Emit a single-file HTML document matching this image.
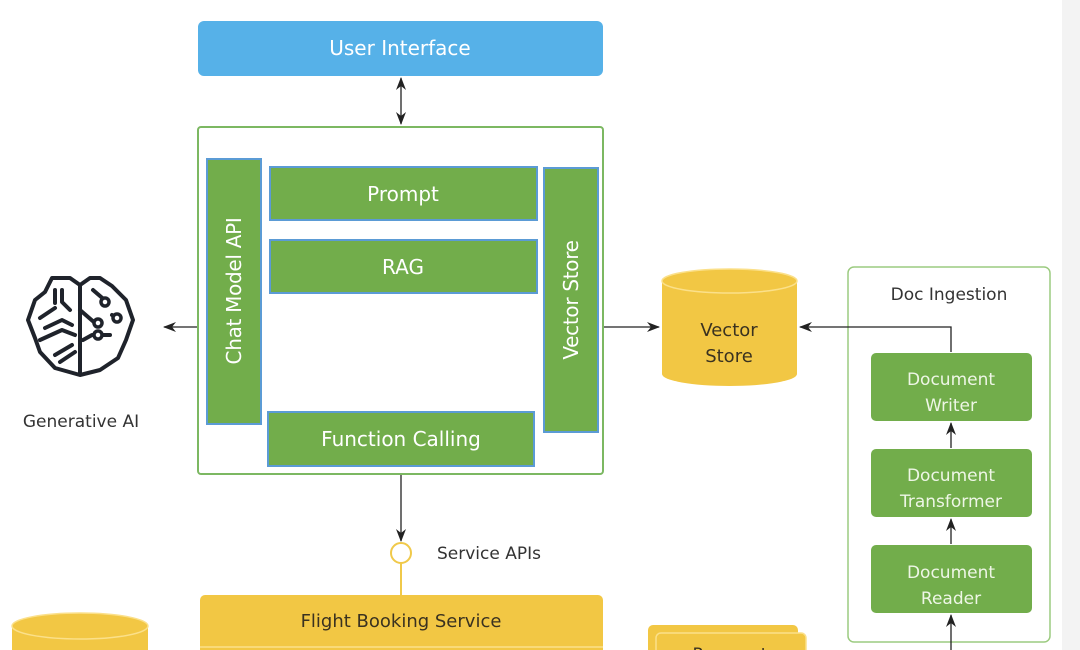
<!DOCTYPE html>
<html><head><meta charset="utf-8"><style>
html,body{margin:0;padding:0;background:#fff;}
svg{display:block;font-family:"DejaVu Sans","Liberation Sans",sans-serif;}
</style></head><body>
<svg width="1080" height="650" viewBox="0 0 1080 650" xmlns="http://www.w3.org/2000/svg">
<defs>
<marker id="ah" markerWidth="13" markerHeight="12" refX="12" refY="6" orient="auto-start-reverse" markerUnits="userSpaceOnUse"><path d="M0,1 L13,6 L0,11 L4,6 Z" fill="#222"/></marker>
</defs>
<rect x="1062" y="0" width="18" height="650" fill="#f3f3f3"/>
<rect x="198" y="21" width="405" height="55" rx="6" fill="#56b1e8"/>
<text x="400" y="55" font-size="20" fill="#fff" text-anchor="middle">User Interface</text>
<line x1="401" y1="78" x2="401" y2="124" stroke="#222" stroke-width="1.3" marker-start="url(#ah)" marker-end="url(#ah)"/>
<rect x="198" y="127" width="405" height="347" rx="3" fill="#fff" stroke="#7cb862" stroke-width="2"/>
<g stroke="#5b9bd5" stroke-width="2" fill="#72ad4b">
<rect x="207" y="159" width="54" height="265"/>
<rect x="270" y="167" width="267" height="53"/>
<rect x="270" y="240" width="267" height="53"/>
<rect x="268" y="412" width="266" height="54"/>
<rect x="544" y="168" width="54" height="264"/>
</g>
<g fill="#fff" font-size="20" text-anchor="middle">
<text x="403" y="201">Prompt</text>
<text x="403" y="274">RAG</text>
<text x="401" y="446">Function Calling</text>
<text transform="translate(241,291) rotate(-90)" letter-spacing="-0.3">Chat Model API</text>
<text transform="translate(578,300) rotate(-90)" letter-spacing="-0.3">Vector Store</text>
</g>
<line x1="197" y1="327" x2="164" y2="327" stroke="#222" stroke-width="1.3" marker-end="url(#ah)"/>
<g fill="none" stroke="#1f232b" stroke-width="4" stroke-linejoin="round" stroke-linecap="round">
<path d="M80,285 L70,278 L52,278 L45,292 L35,300 L28,320 L35,338 L40,352 L55,368 L80,375 L100,370 L118,358 L126,340 L133,320 L126,300 L112,286 L100,278 L90,278 Z"/>
<path d="M80,285 L80,374"/>
<path d="M80,310 L95,323 L98,322"/>
<path d="M93,290 L107,302"/>
<path d="M110,335 L92,335 L83,340"/>
<path d="M112,315 L120,318"/>
<path d="M55,290 L55,303 M62,290 L62,302 L70,310 M40,318 L55,308 M45,328 L62,320 L72,325 M40,340 L62,330 L75,335 M55,355 L72,345 M60,362 L75,352"/>
</g>
<g fill="#fff" stroke="#1f232b" stroke-width="3.5">
<circle cx="105" cy="302" r="4"/><circle cx="98" cy="323" r="4"/><circle cx="117" cy="318" r="4"/><circle cx="98" cy="335" r="4"/>
</g>
<text x="81" y="427" font-size="17" fill="#333" text-anchor="middle">Generative AI</text>
<line x1="604" y1="327" x2="659" y2="327" stroke="#222" stroke-width="1.3" marker-end="url(#ah)"/>
<path d="M662,281 L662,374 A67.5,12 0 0 0 797,374 L797,281 Z" fill="#f2c744"/>
<ellipse cx="729.5" cy="281" rx="67.5" ry="12" fill="#f2c744" stroke="#fbe08a" stroke-width="1.5"/>
<text x="729" y="336" font-size="18" fill="#3a3220" text-anchor="middle">Vector</text>
<text x="729" y="362" font-size="18" fill="#3a3220" text-anchor="middle">Store</text>
<rect x="848" y="267" width="202" height="375" rx="6" fill="#fff" stroke="#9ccb80" stroke-width="1.5"/>
<text x="949" y="300" font-size="17" fill="#333" text-anchor="middle">Doc Ingestion</text>
<polyline points="951,352 951,327 800,327" fill="none" stroke="#222" stroke-width="1.3" marker-end="url(#ah)"/>
<g fill="#72ad4b">
<rect x="871" y="353" width="161" height="68" rx="5"/>
<rect x="871" y="449" width="161" height="68" rx="5"/>
<rect x="871" y="545" width="161" height="68" rx="5"/>
</g>
<g fill="#eef6e6" font-size="17" text-anchor="middle">
<text x="951" y="385">Document</text><text x="951" y="411">Writer</text>
<text x="951" y="481">Document</text><text x="951" y="507">Transformer</text>
<text x="951" y="578">Document</text><text x="951" y="604">Reader</text>
</g>
<line x1="951" y1="448" x2="951" y2="423" stroke="#222" stroke-width="1.3" marker-end="url(#ah)"/>
<line x1="951" y1="544" x2="951" y2="519" stroke="#222" stroke-width="1.3" marker-end="url(#ah)"/>
<line x1="951" y1="650" x2="951" y2="615" stroke="#222" stroke-width="1.3" marker-end="url(#ah)"/>
<line x1="401" y1="475" x2="401" y2="541" stroke="#222" stroke-width="1.3" marker-end="url(#ah)"/>
<circle cx="401" cy="553" r="10" fill="#fff" stroke="#f0c94a" stroke-width="2"/>
<line x1="401" y1="563" x2="401" y2="596" stroke="#f0c94a" stroke-width="2"/>
<text x="437" y="559" font-size="17" fill="#333">Service APIs</text>
<rect x="200" y="595" width="403" height="60" rx="5" fill="#f2c744"/>
<line x1="200" y1="647" x2="603" y2="647" stroke="#fbe08a" stroke-width="1.5"/>
<text x="401" y="627" font-size="18" fill="#3a3220" text-anchor="middle">Flight Booking Service</text>
<path d="M12,626 L12,650 L148,650 L148,626 Z" fill="#f2c744"/>
<ellipse cx="80" cy="626" rx="68" ry="13" fill="#f2c744" stroke="#fbe08a" stroke-width="1.5"/>
<rect x="648" y="625" width="150" height="40" rx="5" fill="#f2c744"/>
<rect x="656" y="633" width="150" height="40" rx="5" fill="#f2c744" stroke="#fbe08a" stroke-width="1.5"/>
<text x="730" y="660" font-size="17" fill="#3a3220" text-anchor="middle">Reservat</text>
</svg>
</body></html>
